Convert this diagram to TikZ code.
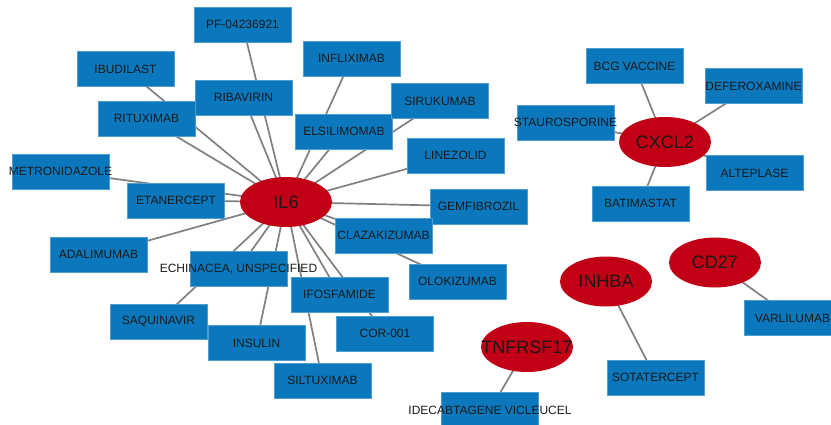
\documentclass[tikz,border=0pt]{standalone}
\usepackage{fontspec}
\setmainfont{Liberation Sans}
\usepackage{tikz}
\usetikzlibrary{shapes.geometric,backgrounds}
\usepackage{xcolor}
\definecolor{hubred}{HTML}{C10016}
\definecolor{drugblue}{HTML}{0B78BD}
\definecolor{drugedge}{HTML}{4D9FD2}
\definecolor{linkgray}{HTML}{808080}

\newcommand{\lbl}[1]{\makebox[0pt]{#1}}

\begin{document}
\begin{tikzpicture}[x=1pt, y=-1pt,
    gene/.style={ellipse, fill=hubred, inner sep=0pt, minimum width=92, minimum height=50,
      text=black!90, font=\fontsize{18}{18}\selectfont},
    drug/.style={rectangle, fill=drugblue, draw=drugedge, line width=0.6pt, inner sep=0pt,
      minimum width=97, minimum height=35, text=black!90, font=\fontsize{12}{12}\selectfont},
    link/.style={linkgray, line width=1.7pt}]
  \useasboundingbox (0,0) rectangle (831,424);

  % Targets
  \node[gene] (il6) at (286,202) {\lbl{IL6}};
  \node[gene] (cxcl2) at (665,142) {\lbl{CXCL2}};
  \node[gene] (inhba) at (606,281.5) {\lbl{INHBA}};
  \node[gene] (cd27) at (715,262.5) {\lbl{CD27}};
  \node[gene] (tnfrsf17) at (527,347) {\lbl{TNFRSF17}};

  % Drugs around IL6
  \node[drug] (pf) at (242.5,24.5) {\lbl{PF-04236921}};
  \node[drug] (ibudilast) at (125.5,69) {\lbl{IBUDILAST}};
  \node[drug] (infliximab) at (351.5,58.5) {\lbl{INFLIXIMAB}};
  \node[drug] (ribavirin) at (243.5,97.5) {\lbl{RIBAVIRIN}};
  \node[drug] (rituximab) at (146.5,118.5) {\lbl{RITUXIMAB}};
  \node[drug] (elsilimomab) at (344,131.5) {\lbl{ELSILIMOMAB}};
  \node[drug] (sirukumab) at (440,101) {\lbl{SIRUKUMAB}};
  \node[drug] (metronidazole) at (60.5,171.5) {\lbl{METRONIDAZOLE}};
  \node[drug] (etanercept) at (176,200.5) {\lbl{ETANERCEPT}};
  \node[drug] (linezolid) at (455.5,155.5) {\lbl{LINEZOLID}};
  \node[drug] (gemfibrozil) at (478.5,206.5) {\lbl{GEMFIBROZIL}};
  \node[drug] (clazakizumab) at (383.5,235.5) {\lbl{CLAZAKIZUMAB}};
  \node[drug] (olokizumab) at (457.5,281.5) {\lbl{OLOKIZUMAB}};
  \node[drug] (ifosfamide) at (339.5,294.5) {\lbl{IFOSFAMIDE}};
  \node[drug] (cor) at (385,333.5) {\lbl{COR-001}};
  \node[drug] (siltuximab) at (322.5,380.5) {\lbl{SILTUXIMAB}};
  \node[drug] (insulin) at (256.5,343) {\lbl{INSULIN}};
  \node[drug] (saquinavir) at (158.5,321.5) {\lbl{SAQUINAVIR}};
  \node[drug] (echinacea) at (238.5,269) {\lbl{ECHINACEA, UNSPECIFIED}};
  \node[drug] (adalimumab) at (98.5,254.5) {\lbl{ADALIMUMAB}};

  % Drugs around CXCL2
  \node[drug] (bcg) at (634.5,66) {\lbl{BCG VACCINE}};
  \node[drug] (deferoxamine) at (753.5,86) {\lbl{DEFEROXAMINE}};
  \node[drug] (staurosporine) at (565.5,122.5) {\lbl{STAUROSPORINE}};
  \node[drug] (alteplase) at (754.5,173) {\lbl{ALTEPLASE}};
  \node[drug] (batimastat) at (640.5,203.5) {\lbl{BATIMASTAT}};

  % Single partners
  \node[drug] (sotatercept) at (655.5,377.5) {\lbl{SOTATERCEPT}};
  \node[drug] (varlilumab) at (792.5,318) {\lbl{VARLILUMAB}};
  \node[drug] (ide) at (490,410) {\lbl{IDECABTAGENE VICLEUCEL}};

  % Links (behind the nodes)
  \begin{scope}[on background layer]
    \foreach \d in {pf,ibudilast,infliximab,ribavirin,rituximab,elsilimomab,sirukumab,
        metronidazole,etanercept,linezolid,gemfibrozil,clazakizumab,olokizumab,ifosfamide,
        cor,siltuximab,insulin,saquinavir,echinacea,adalimumab}
      \draw[link] (il6.center) -- (\d.center);
    \foreach \d in {bcg,deferoxamine,staurosporine,alteplase,batimastat}
      \draw[link] (cxcl2.center) -- (\d.center);
    \draw[link] (inhba.center) -- (sotatercept.center);
    \draw[link] (cd27.center) -- (varlilumab.center);
    \draw[link] (tnfrsf17.center) -- (ide.center);
  \end{scope}
\end{tikzpicture}
\end{document}
